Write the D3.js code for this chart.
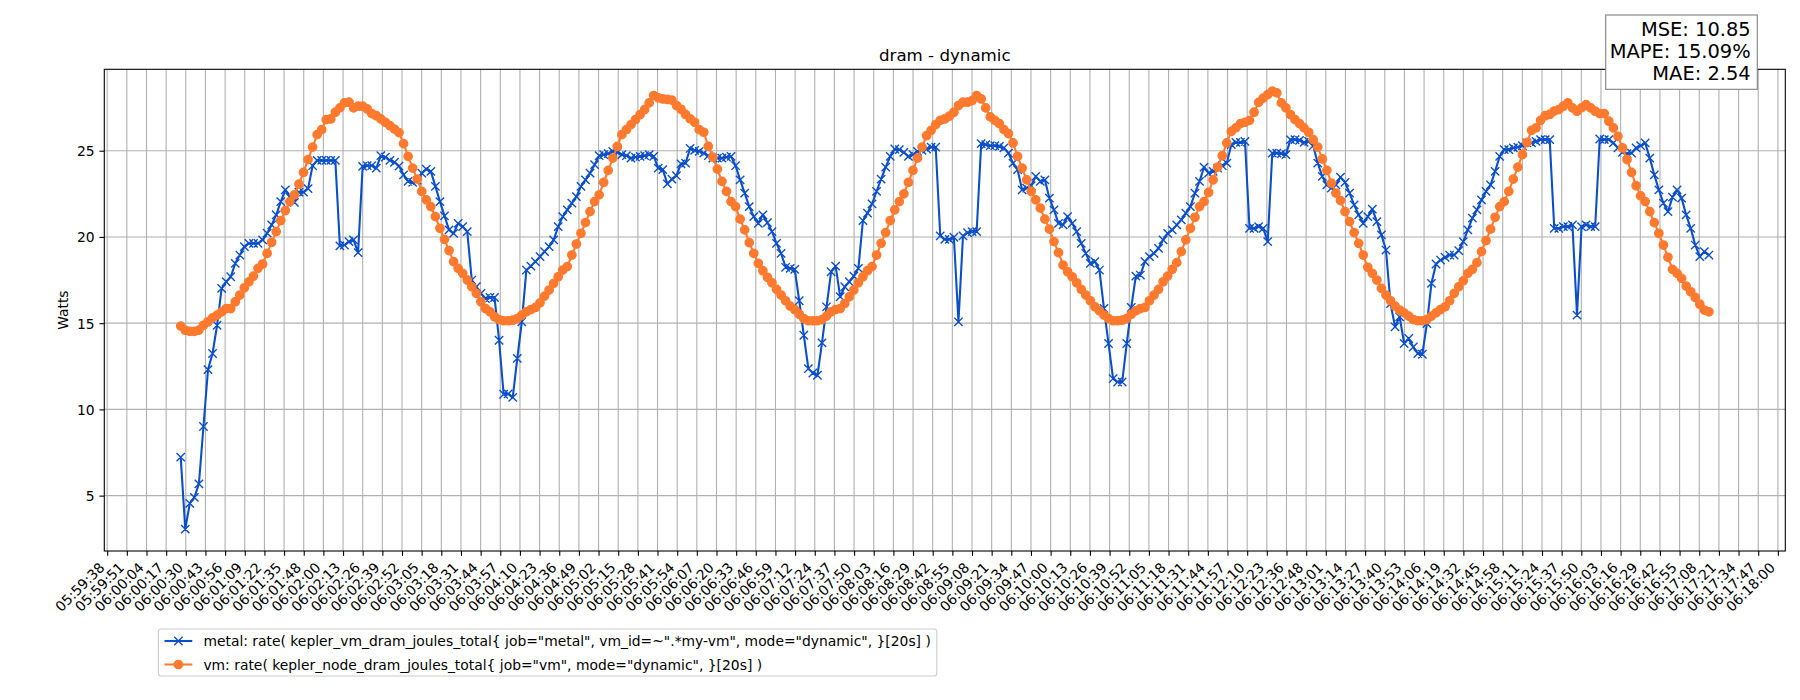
<!DOCTYPE html>
<html><head><meta charset="utf-8">
<script src="https://cdn.jsdelivr.net/npm/d3@7"></script>
<style>body{margin:0;background:#fff;} svg{display:block;} text{font-family:"DejaVu Sans", sans-serif; fill:#000;}</style>
</head><body>
<svg id="chart" width="1800" height="700"></svg>
<script>
const metal = [7.23,3.06,4.55,4.9,5.68,9.01,12.31,13.24,14.88,17.02,17.40,17.69,18.47,18.95,19.44,19.63,19.63,19.63,19.83,20.22,
20.70,21.28,22.05,22.73,22.3,22.0,22.6,22.6,22.8,24.13,24.44,24.44,24.44,24.44,24.44,19.48,19.53,19.73,19.83,19.09,
24.09,24.13,24.13,23.99,24.71,24.63,24.44,24.33,24.11,23.60,23.22,23.16,23.28,23.70,23.93,23.80,22.93,22.05,21.22,20.41,
20.21,20.79,20.60,20.31,17.50,17.11,16.73,16.43,16.49,16.49,14.01,10.88,10.90,10.70,12.96,15.08,18.08,18.31,18.57,18.86,
19.15,19.44,19.83,20.60,21.18,21.57,21.96,22.34,22.93,23.31,23.70,24.19,24.71,24.77,24.83,24.96,24.90,24.77,24.71,24.57,
24.63,24.67,24.71,24.77,24.67,23.99,23.90,23.08,23.35,23.55,24.24,24.28,25.13,25.02,24.96,24.86,24.71,24.57,24.57,24.57,
24.63,24.67,24.13,23.31,22.54,21.76,21.18,20.79,21.28,20.83,20.31,19.63,19.05,18.24,18.18,18.12,16.30,14.30,12.36,12.11,
11.98,13.86,15.95,17.98,18.31,16.53,17.11,17.40,17.73,18.18,20.95,21.38,21.92,22.64,23.35,24.05,24.67,25.10,25.06,24.90,
24.67,24.77,24.96,25.02,25.10,25.21,25.21,20.06,19.86,19.86,19.98,15.08,20.06,20.25,20.31,20.31,25.41,25.35,25.29,25.29,
25.25,25.16,24.86,24.28,23.90,22.73,22.83,22.97,23.51,23.22,23.31,22.25,21.57,20.79,20.70,21.18,20.79,20.31,19.63,19.05,
18.47,18.57,18.08,15.85,13.82,11.78,11.59,11.59,13.82,15.91,17.73,17.79,18.57,18.86,19.05,19.34,19.83,20.21,20.41,20.70,
20.99,21.38,21.76,22.54,23.22,24.05,23.70,23.80,23.99,24.13,24.28,25.35,25.48,25.48,25.54,20.50,20.50,20.60,20.50,19.73,
24.86,24.86,24.83,24.77,25.64,25.64,25.60,25.48,25.54,25.29,24.28,23.51,23.02,22.83,23.02,23.47,23.16,22.54,21.86,21.28,
20.79,21.18,21.61,20.89,20.12,19.24,16.14,14.79,15.37,13.82,14.11,13.62,13.24,13.20,14.98,17.31,18.43,18.66,18.82,18.95,
18.95,19.21,19.73,20.41,21.09,21.57,22.15,22.64,23.02,23.80,24.67,25.06,25.06,25.16,25.21,25.29,25.45,25.45,25.54,25.64,
25.64,25.64,20.50,20.50,20.60,20.60,20.70,15.47,20.60,20.70,20.60,20.60,25.68,25.64,25.64,25.45,25.16,24.90,24.83,24.86,
25.16,25.29,25.45,24.57,23.60,22.73,21.96,21.47,22.31,22.73,22.25,21.28,20.50,19.53,18.86,19.15,18.95];

const vm = [14.83,14.59,14.53,14.53,14.6,14.88,15.08,15.31,15.47,15.66,15.85,15.85,16.24,16.63,17.05,17.40,17.73,18.18,18.43,19.05,
19.69,20.31,20.95,21.53,22.05,22.44,23.06,23.74,24.48,25.21,25.93,26.22,26.80,26.84,27.23,27.48,27.77,27.81,27.48,27.58,
27.58,27.42,27.15,27.03,26.84,26.65,26.45,26.25,26.05,25.41,24.67,23.99,23.35,22.64,22.15,21.76,21.18,20.50,19.86,19.21,
18.57,18.18,17.89,17.50,17.11,16.73,16.24,15.85,15.66,15.37,15.21,15.14,15.14,15.17,15.27,15.47,15.66,15.79,15.91,16.18,
16.57,16.92,17.31,17.69,18.08,18.28,18.95,19.59,20.21,20.83,21.47,22.05,22.44,23.16,23.86,24.57,25.25,25.93,26.22,26.51,
26.80,27.09,27.38,27.77,28.20,28.06,28.00,27.97,27.93,27.62,27.40,27.10,26.85,26.65,26.22,26.07,25.25,24.63,23.93,23.22,
22.64,22.05,21.76,21.03,20.41,19.67,19.05,18.47,18.04,17.66,17.34,16.96,16.63,16.30,15.99,15.79,15.52,15.27,15.14,15.14,
15.14,15.21,15.41,15.66,15.79,15.85,16.14,16.53,16.92,17.34,17.69,18.04,18.28,18.95,19.63,20.25,20.95,21.57,22.05,22.50,
23.16,23.86,24.57,25.21,25.87,26.18,26.51,26.76,26.84,27.00,27.23,27.62,27.81,27.81,27.90,28.20,28.00,27.48,26.96,26.76,
26.57,26.22,25.99,25.45,24.67,23.99,23.31,22.64,22.15,21.67,21.03,20.45,19.73,19.09,18.37,17.98,17.69,17.34,16.96,16.63,
16.30,15.95,15.72,15.47,15.27,15.14,15.14,15.17,15.27,15.52,15.72,15.85,15.91,16.30,16.63,16.96,17.40,17.73,18.12,18.51,
19.15,19.83,20.50,21.14,21.76,22.05,22.58,23.31,24.05,24.71,25.45,26.12,26.32,26.57,26.65,26.76,27.23,27.80,28.05,28.25,
28.45,28.35,27.77,27.48,27.09,26.80,26.57,26.32,26.07,25.64,25.21,24.52,23.86,23.12,22.54,22.11,21.47,20.89,20.25,19.63,
18.95,18.24,17.89,17.50,17.02,16.63,16.30,15.99,15.76,15.60,15.41,15.21,15.14,15.14,15.21,15.41,15.60,15.79,15.95,16.30,
16.73,17.11,17.46,17.89,18.12,18.51,19.15,19.79,20.45,21.14,21.76,22.05,22.64,23.35,24.05,24.77,25.48,26.18,26.32,26.76,
27.03,27.10,27.30,27.38,27.58,27.77,27.48,27.29,27.48,27.67,27.48,27.29,27.15,27.15,26.71,26.32,25.83,25.16,24.48,23.74,
22.97,22.38,22.05,21.47,20.83,20.21,19.53,18.82,18.12,17.89,17.60,17.15,16.82,16.49,16.10,15.76,15.66];

const tickLabels = ["05:59:38","05:59:51","06:00:04","06:00:17","06:00:30","06:00:43","06:00:56","06:01:09","06:01:22","06:01:35",
"06:01:48","06:02:00","06:02:13","06:02:26","06:02:39","06:02:52","06:03:05","06:03:18","06:03:31","06:03:44",
"06:03:57","06:04:10","06:04:23","06:04:36","06:04:49","06:05:02","06:05:15","06:05:28","06:05:41","06:05:54",
"06:06:07","06:06:20","06:06:33","06:06:46","06:06:59","06:07:12","06:07:24","06:07:37","06:07:50","06:08:03",
"06:08:16","06:08:29","06:08:42","06:08:55","06:09:08","06:09:21","06:09:34","06:09:47","06:10:00","06:10:13",
"06:10:26","06:10:39","06:10:52","06:11:05","06:11:18","06:11:31","06:11:44","06:11:57","06:12:10","06:12:23",
"06:12:36","06:12:48","06:13:01","06:13:14","06:13:27","06:13:40","06:13:53","06:14:06","06:14:19","06:14:32",
"06:14:45","06:14:58","06:15:11","06:15:24","06:15:37","06:15:50","06:16:03","06:16:16","06:16:29","06:16:42",
"06:16:55","06:17:08","06:17:21","06:17:34","06:17:47","06:18:00"];
const yTicks = [5, 10, 15, 20, 25];
const firstSample = "06:00:26.5";
const stepSeconds = 3;
const seriesNames = ['metal: rate( kepler_vm_dram_joules_total{ job="metal", vm_id=~".*my-vm", mode="dynamic", }[20s] )',
                     'vm: rate( kepler_node_dram_joules_total{ job="vm", mode="dynamic", }[20s] )'];
const metricLines = ["MSE: 10.85", "MAPE: 15.09%", "MAE: 2.54"];
const titleText = "dram - dynamic";
const yLabel = "Watts";

function parseT(s) {
  const [h, m, sec] = s.split(":");
  const sf = parseFloat(sec);
  return new Date(2024, 0, 1, +h, +m, Math.floor(sf), Math.round((sf - Math.floor(sf)) * 1000));
}

const BLUE = "#0a4ec8", ORANGE = "#ff7a2e";
const L = 104.3, R = 1785.3, T = 69.3, B = 551;
const FS = 13.89;

const svg = d3.select("#chart");
const t0 = parseT(firstSample).getTime();
const times = metal.map((_, i) => new Date(t0 + i * stepSeconds * 1000));
const tMin = times[0].getTime(), tMax = times[times.length - 1].getTime();
const tPad = (tMax - tMin) * 0.05;
const x = d3.scaleTime().domain([new Date(tMin - tPad), new Date(tMax + tPad)]).range([L, R]);

const allV = metal.concat(vm);
const vMin = d3.min(allV), vMax = d3.max(allV), vPad = (vMax - vMin) * 0.05;
const y = d3.scaleLinear().domain([vMin - vPad, vMax + vPad]).range([B, T]);

const tickStart = parseT(tickLabels[0]).getTime();
const tickEnd = parseT(tickLabels[tickLabels.length - 1]).getTime();
const tickTimes = tickLabels.map((_, i) => new Date(tickStart + i * (tickEnd - tickStart) / (tickLabels.length - 1)));

// grid
const grid = svg.append("g");
grid.selectAll("line.vx").data(tickTimes).join("line")
  .attr("x1", d => x(d)).attr("x2", d => x(d)).attr("y1", T).attr("y2", B)
  .attr("stroke", "#b0b0b0").attr("stroke-width", 1.1);
grid.selectAll("line.hy").data(yTicks).join("line")
  .attr("x1", L).attr("x2", R).attr("y1", d => y(d)).attr("y2", d => y(d))
  .attr("stroke", "#b0b0b0").attr("stroke-width", 1.1);

// clip
svg.append("defs").append("clipPath").attr("id", "clip")
  .append("rect").attr("x", L).attr("y", T).attr("width", R - L).attr("height", B - T);
const plot = svg.append("g").attr("clip-path", "url(#clip)");

const line = d3.line().x((d, i) => x(times[i])).y(d => y(d));
const xr = 4.17;
function xPath(cx, cy) { return `M${cx-xr},${cy-xr}L${cx+xr},${cy+xr}M${cx-xr},${cy+xr}L${cx+xr},${cy-xr}`; }

plot.append("path").datum(metal).attr("d", line).attr("fill", "none")
  .attr("stroke", BLUE).attr("stroke-width", 2.08).attr("stroke-linejoin", "round").attr("stroke-linecap", "square");
plot.append("path").attr("d", metal.map((d, i) => xPath(x(times[i]), y(d))).join(""))
  .attr("fill", "none").attr("stroke", BLUE).attr("stroke-width", 1.39);

plot.append("path").datum(vm).attr("d", line).attr("fill", "none")
  .attr("stroke", ORANGE).attr("stroke-width", 2.08).attr("stroke-linejoin", "round");
plot.selectAll("circle.vm").data(vm).join("circle")
  .attr("cx", (d, i) => x(times[i])).attr("cy", d => y(d)).attr("r", 4.17)
  .attr("fill", ORANGE).attr("stroke", ORANGE).attr("stroke-width", 1.39);

// axes
const xAxis = d3.axisBottom(x).tickValues(tickTimes).tickFormat((d, i) => tickLabels[i])
  .tickSizeOuter(0).tickSizeInner(4.86);
const gx = svg.append("g").attr("transform", `translate(0,${B})`).call(xAxis);
gx.select(".domain").remove();
gx.selectAll(".tick line").attr("stroke", "#000").attr("stroke-width", 1.1);
gx.selectAll(".tick text").attr("y", 0).attr("dy", 0)
  .attr("text-anchor", "end").attr("font-size", FS).attr("font-family", "DejaVu Sans")
  .attr("transform", "translate(-2.3,17.4) rotate(-45)");

const yAxis = d3.axisLeft(y).tickValues(yTicks).tickSizeOuter(0).tickSizeInner(4.86).tickPadding(4.86);
const gy = svg.append("g").attr("transform", `translate(${L},0)`).call(yAxis);
gy.select(".domain").remove();
gy.selectAll(".tick line").attr("stroke", "#000").attr("stroke-width", 1.1);
gy.selectAll(".tick text").attr("font-size", FS).attr("font-family", "DejaVu Sans").attr("dy", "0.36em");

// spines
svg.append("rect").attr("x", L).attr("y", T).attr("width", R - L).attr("height", B - T)
  .attr("fill", "none").attr("stroke", "#000").attr("stroke-width", 1.1);

// title & labels
svg.append("text").attr("x", (L + R) / 2).attr("y", 61).attr("text-anchor", "middle")
  .attr("font-size", 16.67).text(titleText);
svg.append("text").attr("transform", `translate(68.3,${(T + B) / 2}) rotate(-90)`)
  .attr("text-anchor", "middle").attr("font-size", FS).text(yLabel);

// metrics box
svg.append("rect").attr("x", 1605.7).attr("y", 15).attr("width", 151.6).attr("height", 74.3)
  .attr("fill", "#fff").attr("stroke", "#808080").attr("stroke-width", 1.1);
metricLines.forEach((s, i) => {
  svg.append("text").attr("x", 1750.7).attr("y", 36 + i * 22.2).attr("text-anchor", "end")
    .attr("font-size", 19.44).text(s);
});

// legend
const lg = svg.append("g");
lg.append("rect").attr("x", 158.4).attr("y", 629).attr("width", 778.4).attr("height", 47).attr("rx", 2.8)
  .attr("fill", "#fff").attr("fill-opacity", 0.8).attr("stroke", "#cccccc").attr("stroke-width", 1.1);
const colors = [BLUE, ORANGE];
seriesNames.forEach((name, i) => {
  const cy = 641 + i * 23.5;
  lg.append("line").attr("x1", 164.5).attr("x2", 192.3).attr("y1", cy).attr("y2", cy)
    .attr("stroke", colors[i]).attr("stroke-width", 2.08);
  if (i === 0) lg.append("path").attr("d", xPath(178.4, cy)).attr("stroke", BLUE).attr("stroke-width", 1.39);
  else lg.append("circle").attr("cx", 178.4).attr("cy", cy).attr("r", 4.17).attr("fill", ORANGE)
    .attr("stroke", ORANGE).attr("stroke-width", 1.39);
  lg.append("text").attr("x", 203.4).attr("y", cy + 5).attr("font-size", FS).text(name);
});
</script>
</body></html>
